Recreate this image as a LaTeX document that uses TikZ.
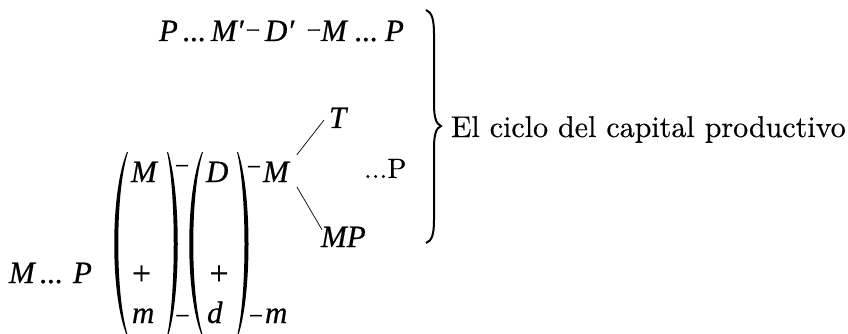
\documentclass[tikz,border=0pt]{standalone}
\usepackage{fontspec}
\usetikzlibrary{calc}
\newfontfamily\tnr[FakeBold=0.5]{Liberation Serif}
\newfontfamily\tnrb[FakeBold=1.5]{Liberation Serif}
\newfontfamily\lmten[FakeBold=0.4]{lmroman10-regular.otf}
\newcommand\mifont{\tnr\itshape\fontsize{31}{37}\selectfont}
\newcommand\upfont{\lmten\fontsize{30}{36}\selectfont}
\newcommand\updfont{\lmten\fontsize{28}{34}\selectfont}
\newcommand\mnfont{\tnrb\fontsize{23}{27}\selectfont}
\newcommand\plfont{\tnr\fontsize{34}{40}\selectfont}
\begin{document}
\begin{tikzpicture}[x=1pt, y=-1pt,
  mi/.style={inner sep=0pt, outer sep=0pt, anchor=base west, font=\mifont},
  up/.style={inner sep=0pt, outer sep=0pt, anchor=base west, font=\upfont},
  upd/.style={inner sep=0pt, outer sep=0pt, anchor=base west, font=\updfont},
  mn/.style={inner sep=0pt, outer sep=0pt, anchor=center, font=\mnfont},
  pl/.style={inner sep=0pt, outer sep=0pt, anchor=center, font=\plfont},
  link/.style={line width=0.7pt},
  delim/.style={fill=black, draw=none},
  bracestroke/.style={line width=2pt}]
\useasboundingbox (0,0) rectangle (848,334);
% top row
\node[mi] (tP1) at (159,41) {P};
\node[mi] (td1) at (183,41) {...};
\node[mi] (tM1) at (211,41) {M′};
\node[mn] (tm1) at (253,32.5) {–};
\node[mi] (tD) at (265,41) {D′};
\node[mn] (tm2) at (314,32.5) {–};
\node[mi] (tM2) at (321,41) {M};
\node[mi] (td2) at (355,41) {...};
\node[mi] (tP2) at (385,41) {P};
% middle row
\node[mi] (mM1) at (131,182) {M};
\node[mn] (mm1) at (182,168) {–};
\node[mi] (mD) at (206,182) {D};
\node[mn] (mm2) at (254,169) {–};
\node[mi] (mM) at (263,182) {M};
\node[mi] (T) at (329,128) {T};
\node[mi] (MP) at (321,247) {MP};
\node[upd] (dP) at (364,178) {...P};
\draw[link] ($(mM.east)+(8,-17)$) -- ($(T.south west)+(-5,-8)$);
\draw[link] ($(mM.east)+(8,15)$) -- ($(MP.north west)+(1,3)$);
% bottom rows
\node[mi] (bM) at (9,283) {M};
\node[mi] (bd) at (40,283) {...};
\node[mi] (bP) at (73,283) {P};
\node[pl] (pl1) at (141.5,275) {+};
\node[pl] (pl2) at (219,275) {+};
\node[mi] (bm1) at (132,323) {m};
\node[mn] (bmn1) at (182.5,318) {–};
\node[mi] (bdd) at (207,323) {d};
\node[mn] (bmn2) at (256,318) {–};
\node[mi] (bm2) at (265,323) {m};
% parentheses
\fill[delim] (127,152) .. controls (110,192) and (110,296) .. (127,336) -- (128,336) .. controls (115,296) and (115,192) .. (128,152) -- cycle;
\fill[delim] (168,152) .. controls (181,192) and (181,296) .. (168,336) -- (167,336) .. controls (176,296) and (176,192) .. (167,152) -- cycle;
\fill[delim] (202,152) .. controls (185,192) and (185,296) .. (202,336) -- (203,336) .. controls (190,296) and (190,192) .. (203,152) -- cycle;
\fill[delim] (238,152) .. controls (252,192) and (252,296) .. (238,336) -- (237,336) .. controls (247,296) and (247,192) .. (237,152) -- cycle;
% brace
\draw[bracestroke] (426,10) .. controls (432,12) and (434,20) .. (434,34) -- (434,104) .. controls (434,117) and (436,124) .. (441,126) .. controls (436,128) and (434,135) .. (434,148) -- (434,220) .. controls (434,234) and (432,241) .. (426,243);
\node[up] (lab) at (451,137) {El ciclo del capital productivo};
\end{tikzpicture}
\end{document}
